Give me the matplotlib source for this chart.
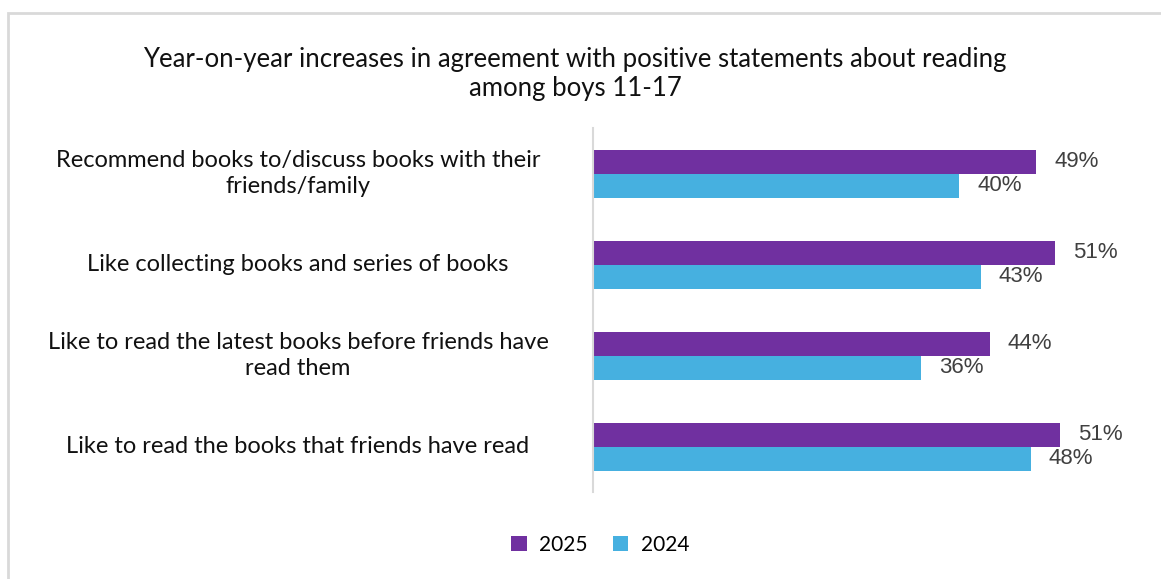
import matplotlib.pyplot as plt
from matplotlib.patches import Rectangle
from matplotlib.transforms import blended_transform_factory
import numpy as np

categories = [
    "Recommend books to/discuss books with their\nfriends/family",
    "Like collecting books and series of books",
    "Like to read the latest books before friends have\nread them",
    "Like to read the books that friends have read",
]
values_2025 = [48.7, 50.8, 43.6, 51.3]
values_2024 = [40.2, 42.6, 36.0, 48.1]

purple = "#7030A0"
blue = "#46B0E0"

fig = plt.figure(figsize=(11.61, 5.79), dpi=100)
fig.patches.append(Rectangle((8 / 1161, -0.1), 1.2, 1 - 13 / 579 + 0.1,
                             transform=fig.transFigure, fill=False,
                             edgecolor="#d9d9d9", linewidth=2))

ax = fig.add_axes([593 / 1161, 1 - 492 / 579, 546 / 1161, 364 / 579])

y = np.arange(len(categories))
h = 24 / 91
ax.barh(y - h / 2, values_2025, height=h, color=purple, label="2025")
ax.barh(y + h / 2, values_2024, height=h, color=blue, label="2024")

ax.set_xlim(0, 60)
ax.set_ylim(len(categories) - 0.5, -0.5)
ax.set_xticks([])
ax.set_yticks([])
for s in ["top", "right", "bottom"]:
    ax.spines[s].set_visible(False)
ax.spines["left"].set_color("#d9d9d9")
ax.spines["left"].set_linewidth(1.5)

for yi, v in zip(y, values_2025):
    ax.text(v + 2.0, yi - h / 2, f"{round(v)}%", va="center", ha="left",
            fontsize=16, color="#404040", family="Liberation Sans")
for yi, v in zip(y, values_2024):
    ax.text(v + 2.0, yi + h / 2, f"{round(v)}%", va="center", ha="left",
            fontsize=16, color="#404040", family="Liberation Sans")

tr = blended_transform_factory(fig.transFigure, ax.transData)
for yi, c in zip(y, categories):
    ax.text(298 / 1161, yi, c, transform=tr, ha="center", va="center",
            fontsize=17, family="Lato", color="#111111", linespacing=1.32)

fig.text(575 / 1161, 1 - 74 / 579,
         "Year-on-year increases in agreement with positive statements about reading\namong boys 11-17",
         ha="center", va="center", fontsize=18.5, family="Lato", color="#111111",
         linespacing=1.25)

fig.legend(loc="center", bbox_to_anchor=(600 / 1161, 1 - 545 / 579), ncol=2,
           frameon=False, prop={"family": "Lato", "size": 15},
           handlelength=0.75, handleheight=0.75, handletextpad=0.6, columnspacing=1.2)

fig.savefig("out.png", dpi=100)
